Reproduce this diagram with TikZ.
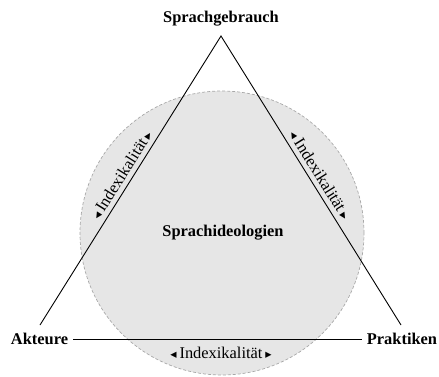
\documentclass[tikz,border=0pt]{standalone}
\usepackage{fontspec}
\setmainfont{Liberation Serif}
\newfontfamily\trifont{DejaVu Sans}
\usetikzlibrary{calc}
\definecolor{circfill}{HTML}{E6E6E6}
\definecolor{circline}{HTML}{A8A8A8}
\tikzset{
  corner/.style={font=\fontsize{16.4}{18}\selectfont\bfseries, inner sep=5pt},
  idx/.style={font=\fontsize{16.4}{18}\selectfont, inner sep=0pt},
  edge/.style={draw=black, line width=0.9pt},
}
\newcommand{\idxtext}{{\trifont\fontsize{12.5}{14}\selectfont\symbol{"25C2}}\hspace{3pt}Indexikalität\hspace{3pt}{\trifont\fontsize{12.5}{14}\selectfont\symbol{"25B8}}}
\begin{document}
\begin{tikzpicture}[x=1pt,y=1pt]
\useasboundingbox (0,0) rectangle (439,376);
% ideology circle
\node[circle, minimum size=284pt, inner sep=0pt, fill=circfill, draw=circline, dash pattern=on 3pt off 2pt, line width=0.7pt] (circ) at (222,143) {};
\node[font=\fontsize{16.4}{18}\selectfont\bfseries] (ideo) at (223,143) {Sprachideologien};
% corner labels
\node[corner] (gebrauch) at (221,357) {Sprachgebrauch};
\node[corner] (akteure) at (39.5,37) {Akteure};
\node[corner] (praktiken) at (402,37) {Praktiken};
% triangle vertices
\coordinate (top) at (221,340);
\coordinate (bl) at (40,51);
\coordinate (br) at (401,51);
\draw[edge] (bl) -- (top) -- (br);
\draw[edge] (akteure.east) -- (praktiken.west);
% indexicality labels
\node[idx, rotate=57.94] (idxl) at (121.2,201.3) {\idxtext};
\node[idx, rotate=-58.08] (idxr) at (320.3,201.3) {\idxtext};
\node[idx] (idxb) at (221,23.5) {\idxtext};
\end{tikzpicture}
\end{document}
